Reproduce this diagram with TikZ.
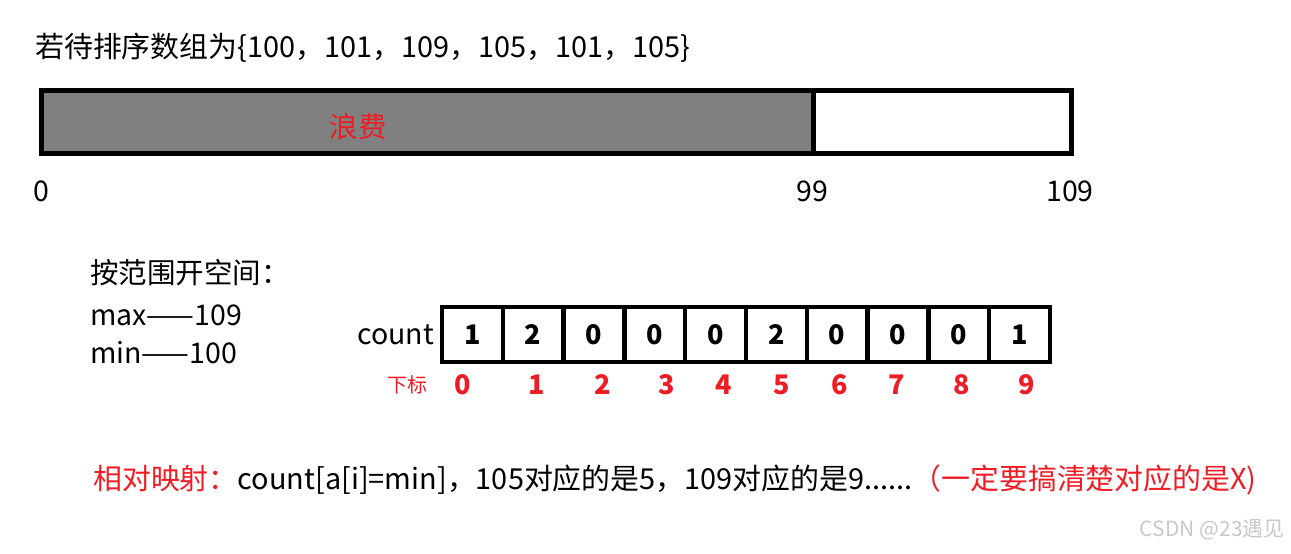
\documentclass[tikz,border=0pt]{standalone}
\usepackage{fontspec}
\setmainfont{Noto Sans CJK SC}
\definecolor{myred}{HTML}{EE1C25}
\definecolor{mygray}{HTML}{808080}
\definecolor{wmgray}{HTML}{C8C8C8}
\begin{document}
\begin{tikzpicture}[x=1pt,y=-1pt,
  txt/.style={inner sep=0pt, font=\fontsize{28.5}{30}\selectfont},
  bigtxt/.style={inner sep=0pt, font=\fontsize{28.9}{30}\selectfont},
  cell/.style={draw, line width=4.5pt, minimum width=60.8pt, minimum height=55pt, inner sep=0pt,
    outer sep=0pt, font=\fontsize{27}{28}\selectfont\bfseries},
  idx/.style={inner sep=0pt, text=myred, font=\fontsize{27}{30}\selectfont\bfseries},
  bar/.style={draw, line width=5pt, outer sep=0pt, inner sep=0pt, minimum height=62.5pt}]
\useasboundingbox (0,0) rectangle (1291,554);
% title
\node[bigtxt, anchor=west] (title) at (35,48) {若待排序数组为\{100，101，109，105，101，105\}};
% top bar
\node[bar, fill=mygray, anchor=north west, minimum width=772.5pt] (waste) at (41,90.5) {};
\node[bar, fill=white, anchor=north west, minimum width=258pt] (rest) at (813.5,90.5) {};
\node[txt, text=myred] (wl) at (358,127) {浪费};
\node[txt] (l0) at (41.5,191) {0};
\node[txt] (l99) at (812,191) {99};
\node[txt] (l109) at (1070,191) {109};
% range
\node[txt, anchor=west] (rng) at (90,273) {按范围开空间：};
\node[txt, anchor=west] (mx) at (90,315) {max——109};
\node[txt, anchor=west] (mn) at (90,353) {min——100};
\node[txt, anchor=east] (cnt) at (434,335) {count};
% array
\foreach \v [count=\i from 0] in {1,2,0,0,0,2,0,0,0,1} {
  \node[cell] (c\i) at ({442+60.8*(\i+0.5)},334.5) {\v};
}
\node[inner sep=0pt, text=myred, font=\fontsize{20}{22}\selectfont] (xb) at (407,385) {下标};
\foreach \x [count=\i from 0] in {463,536.7,603,667,724,782,840,896.7,961.7,1026.7} {
  \node[idx] (d\i) at (\x,385) {\i};
}
% bottom line
\node[bigtxt, anchor=west] (note) at (93,480) {\textcolor{myred}{相对映射：}count[a[i]=min]，105对应的是5，109对应的是9......\textcolor{myred}{（一定要搞清楚对应的是X)}};
% watermark
\node[inner sep=0pt, anchor=east, text=wmgray, font=\fontsize{21}{22}\selectfont] (wm) at (1285,530) {CSDN @23遇见};
\end{tikzpicture}
\end{document}
